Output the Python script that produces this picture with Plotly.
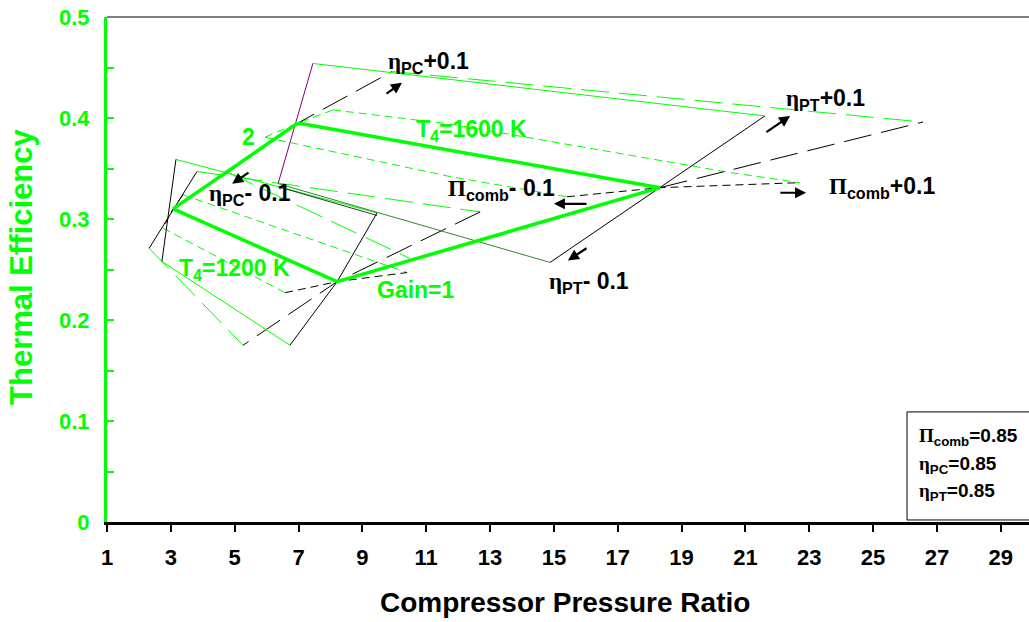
import plotly.graph_objects as go

GREEN = "#00FF00"
DKGREEN = "#2E8B2E"
SERIF = "Liberation Serif"

# ---------------- data (compressor pressure ratio, thermal efficiency) ----------------
# Base carpet: Pi_comb = eta_PC = eta_PT = 0.85
gain2_x = [3.07, 6.98];   gain2_y = [0.310, 0.395]
t1600_x = [6.98, 18.32];  t1600_y = [0.395, 0.331]
t1200_x = [3.07, 8.21];   t1200_y = [0.310, 0.238]
gain1_x = [8.21, 18.32];  gain1_y = [0.238, 0.331]

# eta_PT +/- 0.1 carpets (thin solid)
ptp_1600_x = [7.45, 21.61]; ptp_1600_y = [0.454, 0.402]
ptp_1200_x = [3.16, 9.46];  ptp_1200_y = [0.359, 0.306]
ptm_1600_x = [6.36, 14.88]; ptm_1600_y = [0.335, 0.257]
ptm_1600b_x = [6.36, 9.46]; ptm_1600b_y = [0.332, 0.3035]
ptm_1200_x = [2.72, 6.73];  ptm_1200_y = [0.258, 0.175]
# eta_PT corner traces
pt_trA_x = [6.36, 7.45];          pt_trA_y = [0.335, 0.454]
pt_trC_x = [3.16, 2.72];          pt_trC_y = [0.359, 0.258]
pt_trB_x = [9.46, 8.21, 6.73];    pt_trB_y = [0.306, 0.238, 0.175]
pt_trD_x = [21.61, 18.32, 14.88]; pt_trD_y = [0.402, 0.331, 0.257]

# eta_PC +/- 0.1 carpets (long dash)
pcp_1600_x = [9.93, 26.56]; pcp_1600_y = [0.446, 0.396]
pcp_1200_x = [3.82, 12.69]; pcp_1200_y = [0.347, 0.307]
pcm_1600_x = [4.79, 10.49]; pcm_1600_y = [0.346, 0.261]
pcm_1200_x = [2.32, 5.26];  pcm_1200_y = [0.271, 0.175]
# eta_PC corner traces
pc_trA_x = [4.79, 6.98, 9.93];  pc_trA_y = [0.346, 0.395, 0.446]
pc_trC_x = [3.82, 2.32];        pc_trC_y = [0.347, 0.271]
pc_trB_x = [12.69, 8.21, 5.26]; pc_trB_y = [0.307, 0.238, 0.175]
pc_trD_x = [18.32, 26.56];      pc_trD_y = [0.331, 0.396]

# Pi_comb +/- 0.1 carpets (short dash)
cbp_1600_x = [8.08, 11.75, 20.52, 22.71]; cbp_1600_y = [0.408, 0.394, 0.346, 0.336]
cbm_1600_x = [5.95, 11.75, 15.41];        cbm_1600_y = [0.381, 0.342, 0.322]
cbp_1200_x = [3.38, 10.40];               cbp_1200_y = [0.324, 0.247]
cbm_1200_x = [2.75, 6.58];                cbm_1200_y = [0.291, 0.227]
# Pi_comb corner traces
cb_trA_x = [5.95, 6.98, 8.08];   cb_trA_y = [0.381, 0.395, 0.408]
cb_trC_x = [3.38, 3.07, 2.75];   cb_trC_y = [0.324, 0.310, 0.291]
cb_trB_x = [6.58, 8.21, 10.40];  cb_trB_y = [0.227, 0.238, 0.247]
cb_trD_x = [15.41, 18.32, 22.71]; cb_trD_y = [0.322, 0.331, 0.336]

x_ticks = list(range(1, 30, 2))
y_ticks = [0, 0.1, 0.2, 0.3, 0.4, 0.5]
y_ticktext = ["0", "0.1", "0.2", "0.3", "0.4", "0.5"]

LONG = "28px,10px"
SHORT = "8px,5px"

fig = go.Figure()

def add(xs, ys, color, width=1.0, dash="solid"):
    fig.add_trace(go.Scatter(x=xs, y=ys, mode="lines",
                             line=dict(color=color, width=width, dash=dash),
                             hoverinfo="skip", showlegend=False))

# Pi_comb carpets
add(cbp_1600_x, cbp_1600_y, GREEN, 1, SHORT)
add(cbm_1600_x, cbm_1600_y, GREEN, 1, SHORT)
add(cbp_1200_x, cbp_1200_y, GREEN, 1, SHORT)
add(cbm_1200_x, cbm_1200_y, GREEN, 1, SHORT)
add(cb_trA_x, cb_trA_y, GREEN, 1, SHORT)
add(cb_trC_x, cb_trC_y, "black", 1, SHORT)
add(cb_trB_x, cb_trB_y, "black", 1, SHORT)
add(cb_trD_x, cb_trD_y, "black", 1, SHORT)

# eta_PC carpets
add(pcp_1600_x, pcp_1600_y, GREEN, 1, LONG)
add(pcp_1200_x, pcp_1200_y, GREEN, 1, LONG)
add(pcm_1600_x, pcm_1600_y, GREEN, 1, LONG)
add(pcm_1200_x, pcm_1200_y, GREEN, 1, LONG)
add(pc_trA_x, pc_trA_y, "black", 1, LONG)
add(pc_trC_x, pc_trC_y, "black", 1, "solid")
add(pc_trB_x, pc_trB_y, "black", 1, LONG)
add(pc_trD_x, pc_trD_y, "black", 1, LONG)

# eta_PT carpets
add(ptp_1600_x, ptp_1600_y, GREEN, 1)
add(ptp_1200_x, ptp_1200_y, GREEN, 1)
add(ptm_1600_x, ptm_1600_y, DKGREEN, 1)
add(ptm_1600b_x, ptm_1600b_y, "black", 0.8)
add(ptm_1200_x, ptm_1200_y, GREEN, 1)
add(pt_trA_x, pt_trA_y, "#800080", 1)
add(pt_trC_x, pt_trC_y, "black", 1)
add(pt_trB_x, pt_trB_y, "black", 1)
add(pt_trD_x, pt_trD_y, "black", 1)

# base carpet (thick)
add(gain2_x, gain2_y, GREEN, 3.5)
add(t1600_x, t1600_y, GREEN, 3.5)
add(t1200_x, t1200_y, GREEN, 3.5)
add(gain1_x, gain1_y, GREEN, 3.5)

def eta(sub):
    return f"<span style=\"font-family:{SERIF}\">η</span><sub>{sub}</sub>"

PI = f"<span style=\"font-family:{SERIF}\">Π</span><sub>comb</sub>"

LBL = 23
anns = []
def txt(x, y, text, color="black", size=LBL, xanchor="left"):
    anns.append(dict(x=x, y=y, xref="x", yref="y", text=text, showarrow=False,
                     xanchor=xanchor, yanchor="middle",
                     font=dict(family="Liberation Sans", size=size, color=color, weight="bold")))

def arrow(x0, y0, x1, y1):
    anns.append(dict(x=x1, y=y1, ax=x0, ay=y0, xref="x", yref="y", axref="x", ayref="y",
                     text="", showarrow=True, arrowhead=2, arrowsize=1.0, arrowwidth=2.2,
                     arrowcolor="black"))

txt(9.75, 0.455, eta("PC") + "+0.1")
txt(22.22, 0.418, eta("PT") + "+0.1")
txt(23.55, 0.331, PI + "+0.1")
txt(11.62, 0.329, PI + "- 0.1")
txt(14.78, 0.237, eta("PT") + "- 0.1")
txt(4.12, 0.324, eta("PC") + "- 0.1")
txt(5.42, 0.381, "2", GREEN, LBL, "center")
txt(10.62, 0.388, "T<sub>4</sub>=1600 K", GREEN)
txt(3.18, 0.250, "T<sub>4</sub>=1200 K", GREEN)
txt(9.40, 0.230, "Gain=1", GREEN)

arrow(9.71, 0.423, 10.24, 0.435)
arrow(21.61, 0.385, 22.40, 0.402)
arrow(22.05, 0.326, 22.90, 0.326)
arrow(16.07, 0.315, 15.00, 0.315)
arrow(16.07, 0.272, 15.44, 0.259)
arrow(5.48, 0.347, 4.92, 0.335)

# parameter box text
for ytext, t in [(0.084, PI + "=0.85"), (0.0565, eta("PC") + "=0.85"), (0.0297, eta("PT") + "=0.85")]:
    anns.append(dict(x=0.8785, y=ytext, xref="paper", yref="y", text=t, showarrow=False,
                     xanchor="left", yanchor="middle",
                     font=dict(family="Liberation Sans", size=19, color="black", weight="bold")))

# axis titles
anns.append(dict(x=0.4967, y=-0.160, xref="paper", yref="paper", text="Compressor Pressure Ratio",
                 showarrow=False, xanchor="center", yanchor="middle",
                 font=dict(family="Liberation Sans", size=28, color="black", weight="bold")))
anns.append(dict(x=-0.0922, y=0.505, xref="paper", yref="paper", text="Thermal Efficiency",
                 showarrow=False, xanchor="center", yanchor="middle", textangle=-90,
                 font=dict(family="Liberation Sans", size=31, color=GREEN, weight="bold")))

shapes = [
    dict(type="line", xref="paper", yref="paper", x0=0, x1=1, y0=1, y1=1,
         line=dict(color="black", width=1)),
    dict(type="rect", xref="paper", yref="paper", x0=0.8677, x1=1.01, y0=0.004, y1=0.218,
         line=dict(color="black", width=1), fillcolor="white", layer="below"),
]

fig.update_layout(
    width=1029, height=622,
    margin=dict(l=107, r=0, t=17, b=100),
    plot_bgcolor="white", paper_bgcolor="white",
    showlegend=False,
    annotations=anns, shapes=shapes,
    xaxis=dict(range=[1, 29.885], tickvals=x_ticks, showgrid=False, zeroline=False,
               showline=True, linecolor="black", linewidth=3,
               ticks="outside", ticklen=7, tickwidth=2, tickcolor="black",
               ticklabelstandoff=7,
               tickfont=dict(family="Liberation Sans", size=22, color="black", weight="bold")),
    yaxis=dict(range=[0, 0.5], tickvals=y_ticks, ticktext=y_ticktext, showgrid=False, zeroline=False,
               showline=True, linecolor=GREEN, linewidth=3,
               ticks="inside", ticklen=7, tickwidth=2, tickcolor=GREEN,
               minor=dict(ticks="inside", dtick=0.05, ticklen=7, tickwidth=2, tickcolor=GREEN),
               ticklabelstandoff=10,
               tickfont=dict(family="Liberation Sans", size=22, color=GREEN, weight="bold")),
)

fig.write_html("out.html")
